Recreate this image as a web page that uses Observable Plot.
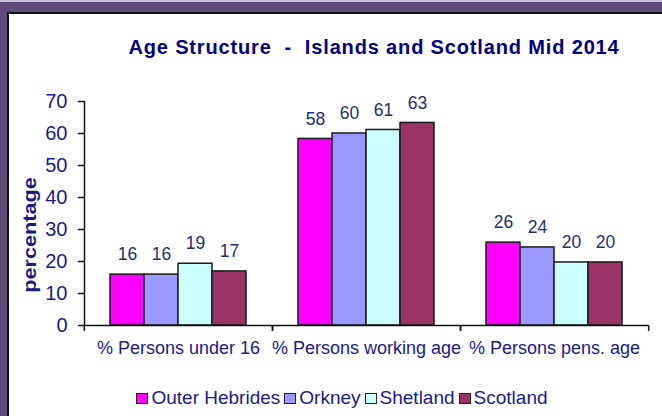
<!DOCTYPE html>
<html><head><meta charset="utf-8">
<script src="https://cdn.jsdelivr.net/npm/d3@7"></script>
<script src="https://cdn.jsdelivr.net/npm/@observablehq/plot@0.6"></script>
<style>
body{margin:0;background:#fff;}
#page{position:relative;width:662px;height:416px;background:#604a7b;overflow:hidden;font-family:Arial,"Liberation Sans",sans-serif;}
#topline{position:absolute;left:0;top:0;width:662px;height:2px;background:#c8c0d8;}
#inner{position:absolute;left:7px;top:12px;right:-4px;bottom:-4px;background:#fff;border-left:2px solid #111;border-top:2px solid #111;}
#chart{position:absolute;left:0;top:0;}
#title{position:absolute;left:0;width:748px;top:36px;text-align:center;font-weight:bold;font-size:20px;letter-spacing:0.85px;color:#000080;white-space:pre;}
#ylabel{position:absolute;left:30px;top:235px;font-weight:bold;font-size:19px;color:#1a1a80;white-space:nowrap;transform:translate(-50%,-50%) rotate(-90deg) scaleX(1.14) ;}
#legend{position:absolute;left:0;width:684px;top:387px;display:flex;justify-content:center;gap:4px;font-size:19px;color:#1a1a8c;}
#legend .it{display:flex;align-items:center;gap:3px;white-space:nowrap;}
#legend .sw{display:inline-block;width:10px;height:9px;border:1.5px solid #222;}
</style>
</head><body>
<div id="page">
  <div id="topline"></div>
  <div id="inner"></div>
  <div id="title">Age Structure  -  Islands and Scotland Mid 2014</div>
  <div id="ylabel">percentage</div>
  <div id="chart"></div>
  <div id="legend"></div>
</div>
<script>
const categories = ["% Persons under 16", "% Persons working age", "% Persons pens. age"];
const series = ["Outer Hebrides", "Orkney", "Shetland", "Scotland"];
const colors = ["#ff00ff", "#9999ff", "#ccffff", "#993366"];
const under16 = [15.9, 15.9, 19.3, 16.9];
const workingAge = [58.3, 60.0, 61.1, 63.3];
const pensAge = [25.9, 24.4, 19.7, 19.7];
const yTicks = [0, 10, 20, 30, 40, 50, 60, 70];

const valuesByCat = [under16, workingAge, pensAge];
const data = [];
categories.forEach((c, i) => series.forEach((s, j) => data.push({category: c, series: s, value: valuesByCat[i][j]})));

const W = 662, H = 370, ML = 83, MR = 14, MT = 101, MB = 45;
const halfBand = (W - ML - MR) / categories.length / 2;
const navy = "#1a1a8c";

const plot = Plot.plot({
  width: W, height: H,
  marginLeft: ML, marginRight: MR, marginTop: MT, marginBottom: MB,
  style: {background: "transparent", fontFamily: "Arial, 'Liberation Sans', sans-serif", color: navy},
  fx: {domain: categories, padding: 0, label: null},
  x: {domain: series, paddingInner: 0, paddingOuter: 0.75, axis: null},
  y: {domain: [0, 70], label: null},
  color: {domain: series, range: colors},
  marks: [
    Plot.barY(data, {fx: "category", x: "series", y: "value", fill: "series", stroke: "#1a1a1a", strokeWidth: 1.5}),
    Plot.text(data, {fx: "category", x: "series", y: "value", text: d => d3.format(".0f")(d.value), dy: -20, fontSize: 17.5, fill: "#1f2f70"}),
    Plot.ruleY([0], {stroke: "#111", strokeWidth: 1.5}),
    Plot.frame({anchor: "left", facetAnchor: "left", stroke: "#111", strokeWidth: 1.5}),
    Plot.axisY({ticks: yTicks, tickSize: 6, tickFormat: () => "", stroke: "#111", strokeWidth: 1.5, label: null}),
    Plot.axisY({ticks: yTicks, tickSize: 0, tickPadding: 17, fontSize: 20, fill: navy, label: null}),
    Plot.axisFx({anchor: "bottom", tickSize: 0, tickPadding: 16, fontSize: 18, fill: navy, label: null}),
    Plot.axisFx({anchor: "bottom", tickSize: 6, dx: -halfBand, tickFormat: () => "", stroke: "#111", strokeWidth: 1.5, label: null}),
    Plot.axisFx([categories[categories.length - 1]], {anchor: "bottom", tickSize: 6, dx: halfBand, tickFormat: () => "", stroke: "#111", strokeWidth: 1.5, label: null})
  ]
});
document.getElementById("chart").appendChild(plot);

const legend = document.getElementById("legend");
series.forEach((s, i) => {
  const it = document.createElement("div"); it.className = "it";
  const sw = document.createElement("span"); sw.className = "sw"; sw.style.background = colors[i];
  const tx = document.createElement("span"); tx.textContent = s;
  it.appendChild(sw); it.appendChild(tx); legend.appendChild(it);
});
</script>
</body></html>
